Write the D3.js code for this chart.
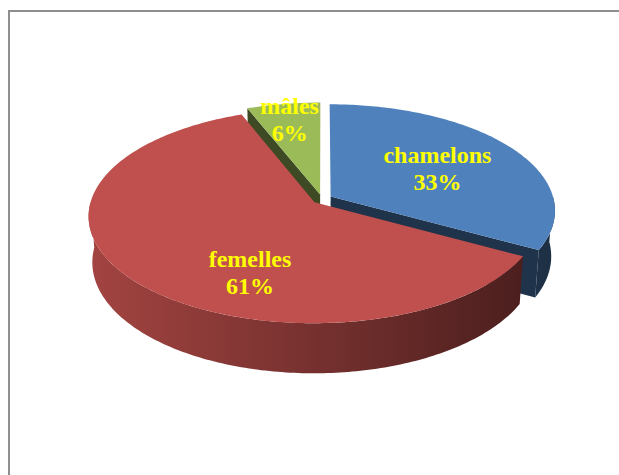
<!DOCTYPE html>
<html>
<head>
<meta charset="utf-8">
<script src="https://cdn.jsdelivr.net/npm/d3@7"></script>
<style>
  body { margin: 0; background: #fff; }
  svg { display: block; }
</style>
</head>
<body>
<div id="chart"></div>
<script>
// data
var categories = ["chamelons", "femelles", "mâles"];
var values = [33, 61, 6];
var colors = ["#4F81BD", "#C0504D", "#9BBB59"];

// label placement inside each slice (angle in degrees, radius as part of pie radius)
var labelAngle = [68.5, 201, 348];
var labelRadius = [0.53, 0.725, 0.725];

var width = 619, height = 475;

// 3d view settings
var cx = 322, cy = 199,     // centre of pie on screen
    S = 223,                // radius in px
    tilt = 28 * Math.PI / 180,
    persp = 0.145,
    depth = 0.235,          // thickness, part of radius
    explode = 0.045;

var sinA = Math.sin(tilt), cosA = Math.cos(tilt);

function proj(X, Y, Z) {
  var yp = Y * cosA + Z * sinA,
      zp = Z * cosA - Y * sinA,
      s = S / (1 + persp * zp);
  return [cx + X * s, cy - yp * s];
}

var svg = d3.select("#chart").append("svg")
    .attr("width", width)
    .attr("height", height);

svg.append("rect").attr("width", width).attr("height", height).attr("fill", "#fff");

// chart frame (only top and left edge are in the picture)
svg.append("path")
    .attr("d", "M9," + height + "V11H" + width)
    .attr("fill", "none")
    .attr("stroke", "#8f8f8f")
    .attr("stroke-width", 2);

var defs = svg.append("defs");

var pie = d3.pie().sort(null).value(function(d) { return d; });
var arcs = pie(values);

var line = d3.line();

arcs.forEach(function(a, i) {
  var mid = (a.startAngle + a.endAngle) / 2;
  a.ox = explode * Math.sin(mid);
  a.oz = explode * Math.cos(mid);
  a.color = colors[i];
  a.name = categories[i];
  a.idx = i;
});

function rim(a, th, Y) {
  return proj(a.ox + Math.sin(th), Y, a.oz + Math.cos(th));
}
function tip(a, Y) {
  return proj(a.ox, Y, a.oz);
}
function arcPts(a, t0, t1, Y) {
  var n = Math.max(2, Math.ceil(Math.abs(t1 - t0) * 60));
  return d3.range(n + 1).map(function(j) { return rim(a, t0 + (t1 - t0) * j / n, Y); });
}

// side gradient, light at left, dark at right
arcs.forEach(function(a) {
  var c = d3.color(a.color);
  var g = defs.append("linearGradient")
      .attr("id", "side" + a.idx)
      .attr("gradientUnits", "userSpaceOnUse")
      .attr("x1", cx - S).attr("x2", cx + S)
      .attr("y1", 0).attr("y2", 0);
  g.append("stop").attr("offset", "0%").attr("stop-color", c.darker(0.5));
  g.append("stop").attr("offset", "45%").attr("stop-color", c.darker(1.3));
  g.append("stop").attr("offset", "100%").attr("stop-color", c.darker(2.8));
});

// back to front
var order = arcs.slice().sort(function(a, b) { return b.oz - a.oz; });

var slices = svg.append("g").attr("id", "slices");

order.forEach(function(a) {
  var g = slices.append("g").attr("class", "slice");
  var dark = d3.color(a.color).darker(2.6);
  var bot = -depth;

  // cut faces
  if (Math.sin(a.startAngle) < -0.01) {
    g.append("path")
      .attr("d", line([tip(a, 0), rim(a, a.startAngle, 0), rim(a, a.startAngle, bot), tip(a, bot)]) + "Z")
      .attr("fill", dark);
  }
  if (Math.sin(a.endAngle) > 0.01) {
    g.append("path")
      .attr("d", line([tip(a, 0), rim(a, a.endAngle, 0), rim(a, a.endAngle, bot), tip(a, bot)]) + "Z")
      .attr("fill", dark);
  }

  // outer side, only the front half shows
  var v0 = Math.max(a.startAngle, Math.PI / 2),
      v1 = Math.min(a.endAngle, Math.PI * 1.5);
  if (v0 < v1) {
    var pts = arcPts(a, v0, v1, 0).concat(arcPts(a, v1, v0, bot));
    g.append("path")
      .attr("d", line(pts) + "Z")
      .attr("fill", "url(#side" + a.idx + ")");
  }

  // top
  var top = [tip(a, 0)].concat(arcPts(a, a.startAngle, a.endAngle, 0));
  g.append("path")
    .attr("d", line(top) + "Z")
    .attr("fill", a.color);
});

// labels
var labels = svg.append("g").attr("id", "labels")
    .attr("font-family", "'Liberation Serif', 'Times New Roman', serif")
    .attr("font-weight", "bold")
    .attr("font-size", "24px")
    .attr("fill", "#FFFF00")
    .attr("text-anchor", "middle");

arcs.forEach(function(a, i) {
  var th = labelAngle[i] * Math.PI / 180, r = labelRadius[i];
  var p = proj(a.ox + r * Math.sin(th), 0, a.oz + r * Math.cos(th));
  var t = labels.append("text").attr("x", p[0]).attr("y", p[1]);
  t.append("tspan").attr("x", p[0]).attr("dy", -13.5).text(a.name);
  t.append("tspan").attr("x", p[0]).attr("dy", 27).text(values[i] + "%");
});
</script>
</body>
</html>
